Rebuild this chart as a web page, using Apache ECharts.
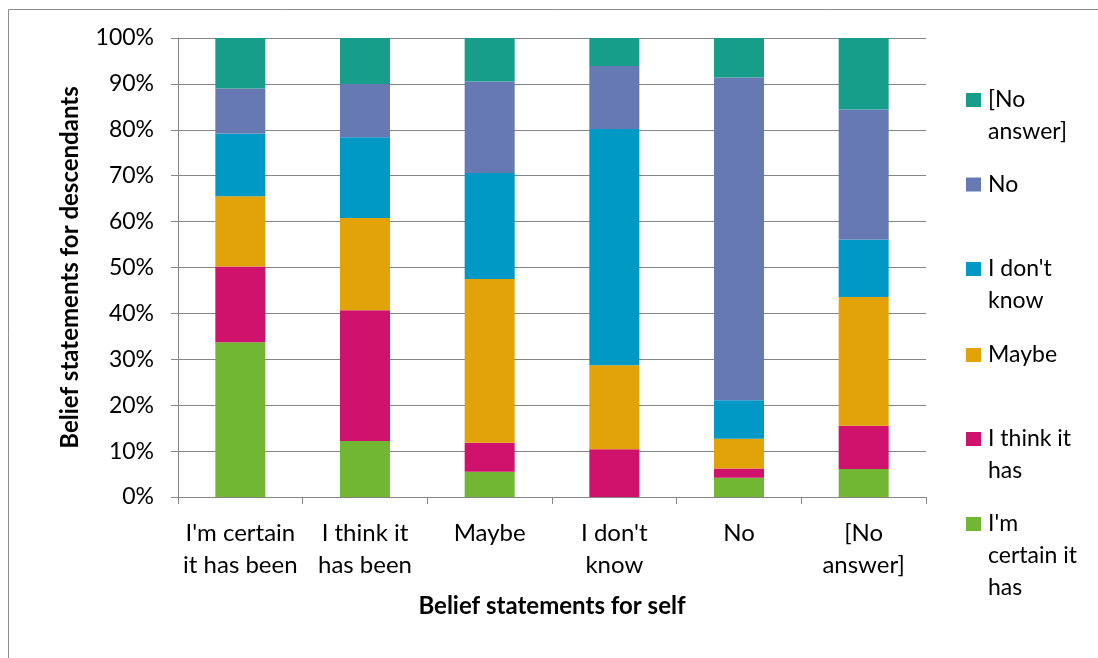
<!DOCTYPE html>
<html>
<head>
<meta charset="utf-8">
<script src="https://cdn.jsdelivr.net/npm/echarts@6/dist/echarts.min.js"></script>
<style>
  html, body { margin: 0; padding: 0; background: #fff; }
  #chart { width: 1098px; height: 658px; }
</style>
</head>
<body>
<div id="chart"></div>
<script>
// categories (belief statements for self)
var categories = ["I'm certain\nit has been", "I think it\nhas been", "Maybe", "I don't\nknow", "No", "[No\nanswer]"];

// series (belief statements for descendants), percent of each column
var seriesNames = ["I'm certain it has", "I think it has", "Maybe", "I don't know", "No", "[No answer]"];
var certainVals = [33.7, 12.2, 5.5, 0, 4.2, 6.1];
var thinkVals = [16.5, 28.5, 6.3, 10.4, 2.0, 9.4];
var maybeVals = [15.3, 20.1, 35.7, 18.3, 6.5, 28.1];
var dontKnowVals = [13.7, 17.6, 23.1, 51.5, 8.4, 12.5];
var noVals = [9.8, 11.6, 19.9, 13.7, 70.3, 28.3];
var noAnswerVals = [11.0, 10.0, 9.5, 6.1, 8.6, 15.6];

var colors = ['#72b733', '#cf126b', '#e1a307', '#0099c6', '#6679b2', '#179e8a'];

// legend text, top to bottom, as it wraps in the picture
var legendLabels = ["[No\nanswer]", "No", "I don't\nknow", "Maybe", "I think it\nhas", "I'm\ncertain it\nhas"];
var legendIconCenters = [100, 184.5, 269, 355, 439, 524];

var FONT = 'Lato';
var LH = 32;
var ICON_H = 14;

var chart = echarts.init(document.getElementById('chart'));

var allVals = [certainVals, thinkVals, maybeVals, dontKnowVals, noVals, noAnswerVals];
var series = seriesNames.map(function (name, i) {
  return {
    name: name,
    type: 'bar',
    stack: 'total',
    barWidth: 50,
    itemStyle: {color: colors[i]},
    data: allVals[i]
  };
});

// one legend per entry so the spacing can follow the picture.
// legend text is centred on the icon, so pad with empty lines on top
// to bring the first line level with the icon
var legends = legendLabels.map(function (label, k) {
  var idx = seriesNames.length - 1 - k;
  var lines = label.split('\n').length;
  var text = new Array(lines).join('\n') + label;
  var total = 2 * lines - 1;
  var boxTop = ICON_H / 2 - total * LH / 2;
  return {
    data: [seriesNames[idx]],
    orient: 'vertical',
    left: 966,
    top: legendIconCenters[k] - ICON_H / 2 + boxTop,
    padding: 0,
    itemWidth: 15,
    itemHeight: ICON_H,
    icon: 'rect',
    selectedMode: false,
    formatter: function () { return text; },
    textStyle: {
      fontFamily: FONT, fontSize: 23, color: '#000',
      lineHeight: LH, padding: [0, 0, 0, 2]
    }
  };
});

var option = {
  animation: false,
  backgroundColor: '#fff',
  color: colors,
  graphic: [{
    type: 'rect',
    x: 8.5, y: 9.5,
    shape: {width: 1200, height: 800},
    style: {fill: 'none', stroke: '#8c8c8c', lineWidth: 1},
    silent: true, z: -10
  }],
  legend: legends,
  grid: {left: 178, right: 172, top: 38, bottom: 161},
  xAxis: {
    type: 'category',
    data: categories,
    name: 'Belief statements for self',
    nameLocation: 'middle',
    nameGap: 97,
    nameTextStyle: {fontFamily: FONT, fontSize: 24, fontWeight: 'bold', color: '#000'},
    axisLine: {lineStyle: {color: '#868686', width: 1}},
    axisTick: {show: true, length: 7, lineStyle: {color: '#868686'}},
    axisLabel: {fontFamily: FONT, fontSize: 24, color: '#000', lineHeight: LH, margin: 20, interval: 0}
  },
  yAxis: {
    type: 'value',
    min: 0, max: 100, interval: 10,
    name: 'Belief statements for descendants',
    nameLocation: 'middle',
    nameRotate: 90,
    nameGap: 96,
    nameTextStyle: {fontFamily: FONT, fontSize: 24, fontWeight: 'bold', color: '#000'},
    axisLine: {show: true, lineStyle: {color: '#868686', width: 1}},
    axisTick: {show: true, length: 7, lineStyle: {color: '#868686'}},
    axisLabel: {fontFamily: FONT, fontSize: 23, color: '#000', margin: 24, formatter: '{value}%'},
    splitLine: {lineStyle: {color: '#868686', width: 1}}
  },
  series: series
};

chart.setOption(option);
</script>
</body>
</html>
